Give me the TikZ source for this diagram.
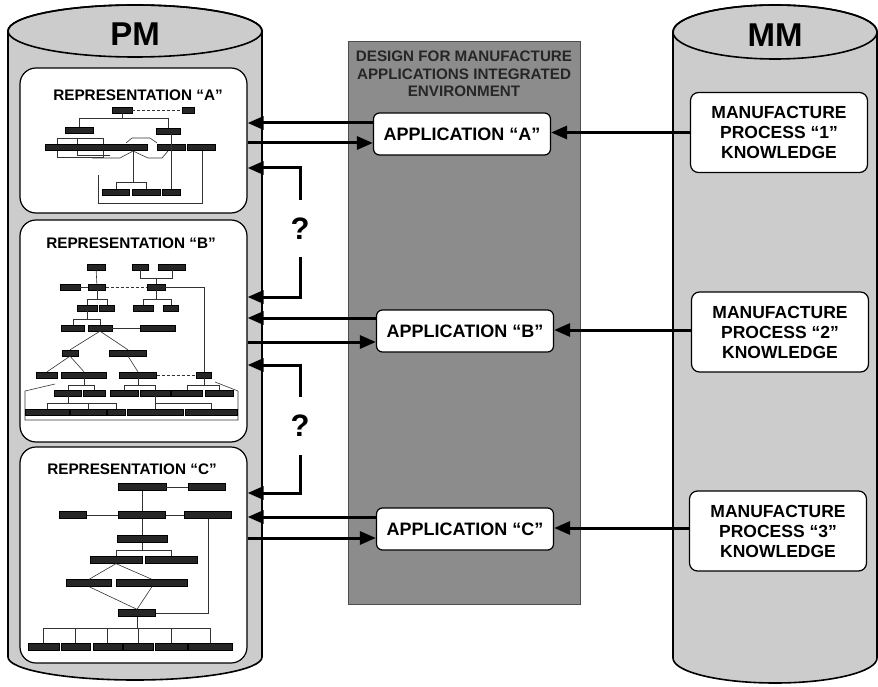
\documentclass[tikz,border=0pt]{standalone}
\usepackage{fontspec}
\setmainfont{Liberation Sans}
\usetikzlibrary{arrows.meta,positioning}
\definecolor{cylgray}{gray}{0.80}
\definecolor{envgray}{gray}{0.55}
\tikzset{
	cyl/.style={draw=black,line width=1.6pt,fill=cylgray},
	repbox/.style={draw=black,line width=1.2pt,fill=white,rounded corners=16pt,inner sep=0pt,minimum width=227pt},
	reptitle/.style={font=\fontsize{15.3}{17}\selectfont\bfseries},
	envbox/.style={draw=black!70,line width=1pt,fill=envgray,minimum width=232pt,minimum height=562pt},
	appbox/.style={draw=black,line width=1.2pt,fill=white,rounded corners=6pt,minimum width=177pt,minimum height=42pt,inner sep=0pt,font=\fontsize{18}{20}\selectfont\bfseries},
	kbox/.style={draw=black,line width=1.2pt,fill=white,rounded corners=8pt,minimum width=177pt,minimum height=80pt,inner sep=0pt,align=center,font=\fontsize{17.5}{20}\selectfont\bfseries},
	qmark/.style={inner sep=0pt,font=\fontsize{31}{31}\selectfont\bfseries},
	link/.style={draw=black,line width=3pt,arrows={-Triangle[length=16pt,width=13pt]}},
	tbox/.style={fill=black!85,draw=black,line width=0.3pt,minimum height=6pt,inner sep=0pt},
	tline/.style={line width=0.6pt,black!80},
}
\begin{document}
\begin{tikzpicture}[x=1pt,y=-1pt]
	\useasboundingbox (0,0) rectangle (878,687);
	% cylinders
	\draw[cyl] (8,31) -- (8,657) arc[start angle=180,end angle=360,x radius=127pt,y radius=23pt] -- (262,31) arc[start angle=0,end angle=180,x radius=127pt,y radius=26pt] -- cycle;
	\draw[cyl,fill=none] (135,31) ellipse [x radius=127pt,y radius=26pt];
	\node[font=\fontsize{33}{33}\selectfont\bfseries] (pm) at (135,34) {PM};
	\draw[cyl] (673,32) -- (673,658) arc[start angle=180,end angle=360,x radius=102pt,y radius=25pt] -- (877,32) arc[start angle=0,end angle=180,x radius=102pt,y radius=27pt] -- cycle;
	\draw[cyl,fill=none] (775,32) ellipse [x radius=102pt,y radius=27pt];
	\node[font=\fontsize{33}{33}\selectfont\bfseries] (mm) at (775,35) {MM};
	% environment
	\node[envbox] (env) at (464,323) {};
	\node[align=center,text=black!85,font=\fontsize{15.2}{17.5}\selectfont\bfseries] (envtitle) at (464,74) {DESIGN FOR MANUFACTURE\\APPLICATIONS INTEGRATED\\ENVIRONMENT};
	\node[appbox] (appA) at (462,134) {APPLICATION “A”};
	\node[appbox] (appB) at (465,331) {APPLICATION “B”};
	\node[appbox] (appC) at (465,529) {APPLICATION “C”};
	% knowledge
	\node[kbox] (mm1) at (779,132.5) {MANUFACTURE\\PROCESS “1”\\KNOWLEDGE};
	\node[kbox] (mm2) at (780,332) {MANUFACTURE\\PROCESS “2”\\KNOWLEDGE};
	\node[kbox] (mm3) at (778,531) {MANUFACTURE\\PROCESS “3”\\KNOWLEDGE};
	% representations
	\node[repbox,minimum height=145pt] (repA) at (133.5,140.5) {};
	\node[repbox,minimum height=222pt] (repB) at (133.5,331) {};
	\node[repbox,minimum height=216pt] (repC) at (133.5,555) {};
	\node[reptitle] (titleA) at (138,95) {REPRESENTATION “A”};
	\node[reptitle] (titleB) at (131,243) {REPRESENTATION “B”};
	\node[reptitle] (titleC) at (132,469) {REPRESENTATION “C”};
	% tree A
	\draw[tline] (57,138) rectangle (103,157);
	\draw[tline] (77,139) -- (77,155) -- (110,155);
	\draw[tline] (126,143) -- (132,138) -- (150,138) -- (157,143);
	\draw[tline] (133,151) -- (120,158) -- (92,158);
	\draw[tline] (133,151) -- (148,158) -- (162,158) -- (168,151);
	\draw[tline] (98,175) -- (98,203) -- (202,203) -- (202,151);
	\foreach \n/\x/\y/\w in {a1/122/110/20,a2/188/110/12,a3/79/130/28,a4/168/131/24,a5/96/147/102,a6/171/147/28,a7/201/147/28,a8/116/192/27,a9/146/192/28,a10/171/192/18}
		\node[tbox,minimum width=\w pt] (\n) at (\x,\y) {};
	\draw[tline,densely dashed] (a1) -- (a2);
	\draw[tline] (a1.south) -- (a1.south |- 0,118);
	\draw[tline] (a3.north) |- (a4.north |- 0,118) -- (a4.north);
	\draw[tline] (133,151) -- (133,182);
	\draw[tline] (a8.north) |- (a9.north |- 0,182) -- (a9.north);
	\draw[tline] (a10.north) -- (a10.north |- a4.south);
	% tree B
	\draw[tline] (55,384) -- (25,391) -- (25,420) -- (238,420) -- (238,391) -- (215,382);
	\foreach \n/\x/\y/\w in {b1/96/267/18,b2/140/267/16,b3/172/267/27,b4/70/287/20,b5/97/287/17,b6/156/287/18,b7/87/308/20,b8/107/308/15,b9/143/308/20,b10/171/308/15,b11/73/328/23,b12/100/328/24,b13/158/328/35,b14/70/353/16,b15/128/353/37,b16/47/375/21,b17/84/375/45,b18/138/375/37,b19/204/375/15,b20/68/393/27,b21/94/393/22,b22/124/393/28,b23/155/393/30,b24/187/393/31,b25/219/393/28,b26/47/412/44,b27/88/412/36,b28/116/412/18,b29/155/412/56,b30/211/412/52}
		\node[tbox,minimum width=\w pt] (\n) at (\x,\y) {};
	\draw[tline] (b1) -- (b5);
	\draw[tline] (b4) -- (b5);
	\draw[tline,densely dashed] (b5) -- (b6);
	\draw[tline] (b6.east) -| (b19.north);
	\draw[tline] (b2.south) |- (b3.south |- 0,278) -- (b3.south);
	\draw[tline] (b6.north) -- (b6.north |- 0,278);
	\draw[tline] (b5.south) -- (b5.south |- 0,299);
	\draw[tline] (b7.north) |- (b8.north |- 0,299) -- (b8.north);
	\draw[tline] (b6.south) -- (b6.south |- 0,299);
	\draw[tline] (b9.north) |- (b10.north |- 0,299) -- (b10.north);
	\draw[tline] (b7.south) -- (b7.south |- 0,319);
	\draw[tline] (b11.north) |- (b12.north |- 0,319) -- (b12.north);
	\draw[tline] (b12) -- (b13);
	\draw[tline] (b12.south) -- (b14.north);
	\draw[tline] (b12.south) -- (b15.north);
	\draw[tline] (b14.south) -- (b16.north);
	\draw[tline] (b14.south) -- (b17.north);
	\draw[tline] (b15.south) -- (b18.north);
	\draw[tline,densely dashed] (b18) -- (b19);
	\foreach \p/\l/\r in {b17/b20/b21,b18/b22/b23,b19/b24/b25}{
		\draw[tline] (\p.south) -- (\p.south |- 0,385);
		\draw[tline] (\l.north) |- (\r.north |- 0,385) -- (\r.north);
	}
	\draw[tline] (b20.south) -- (b20.south |- 0,403);
	\draw[tline] (b26.north) |- (b28.north |- 0,403) -- (b28.north);
	\draw[tline] (b27.north) -- (b27.north |- 0,403);
	\draw[tline] (b23.south) -- (b23.south |- 0,403);
	\draw[tline] (b29.north) |- (b30.north |- 0,403) -- (b30.north);
	% tree C
	\foreach \n/\x/\y/\w in {c1/142/487/48,c2/207/487/37,c3/73/515/27,c4/142/515/47,c5/208/515/47,c6/142/539/50,c7/116/560/52,c8/171/560/52,c9/89/583/45,c10/152/583/71,c11/137/613/37,c12/43.5/647/31,c13/75.5/647/29,c14/107.5/647/29,c15/138/647/30,c16/171/647/32,c17/210/647/44}
		\node[tbox,minimum width=\w pt,minimum height=7pt] (\n) at (\x,\y) {};
	\draw[tline] (c1) -- (c2);
	\draw[tline] (c1) -- (c4);
	\draw[tline] (c3) -- (c4);
	\draw[tline] (c4) -- (c5);
	\draw[tline] (c4) -- (c6);
	\draw[tline] (c6.south) -- (c6.south |- 0,550);
	\draw[tline] (c7.north) |- (c8.north |- 0,550) -- (c8.north);
	\draw[tline] (c7.south) -- (c9.north);
	\draw[tline] (c7.south) -- (c10.north);
	\draw[tline] (c9.south) -- (c11.north);
	\draw[tline] (c10.south) -- (c11.north);
	\draw[tline] (c11.east) -| (c5.south);
	\draw[tline] (c11.south) -- (c11.south |- 0,628);
	\draw[tline] (c12.north) |- (c17.north |- 0,628) -- (c17.north);
	\foreach \n in {c13,c14,c15,c16}
		\draw[tline] (\n.north) -- (\n.north |- 0,628);
	% arrows between PM and applications
	\draw[link] (appA.west |- 0,123) -- (repA.east |- 0,123);
	\draw[link] (repA.east |- 0,143) -- (appA.west |- 0,143);
	\draw[link] (appB.west |- 0,318) -- (repB.east |- 0,318);
	\draw[link] (repB.east |- 0,342) -- (appB.west |- 0,342);
	\draw[link] (appC.west |- 0,517) -- (repC.east |- 0,517);
	\draw[link] (repC.east |- 0,538) -- (appC.west |- 0,538);
	% open links
	\node[qmark,minimum height=57pt] (q1) at (300,228.5) {?};
	\node[qmark,minimum height=58pt] (q2) at (300,426) {?};
	\draw[link] (q1.north) |- (repA.east |- 0,168);
	\draw[link] (q1.south) |- (repB.east |- 0,297);
	\draw[link] (q2.north) |- (repB.east |- 0,365);
	\draw[link] (q2.south) |- (repC.east |- 0,493);
	% knowledge to applications
	\draw[link] (mm1.west) -- (mm1.west -| appA.east);
	\draw[link] (mm2.west |- 0,330) -- (appB.east |- 0,330);
	\draw[link] (mm3.west |- 0,528) -- (appC.east |- 0,528);
\end{tikzpicture}
\end{document}
